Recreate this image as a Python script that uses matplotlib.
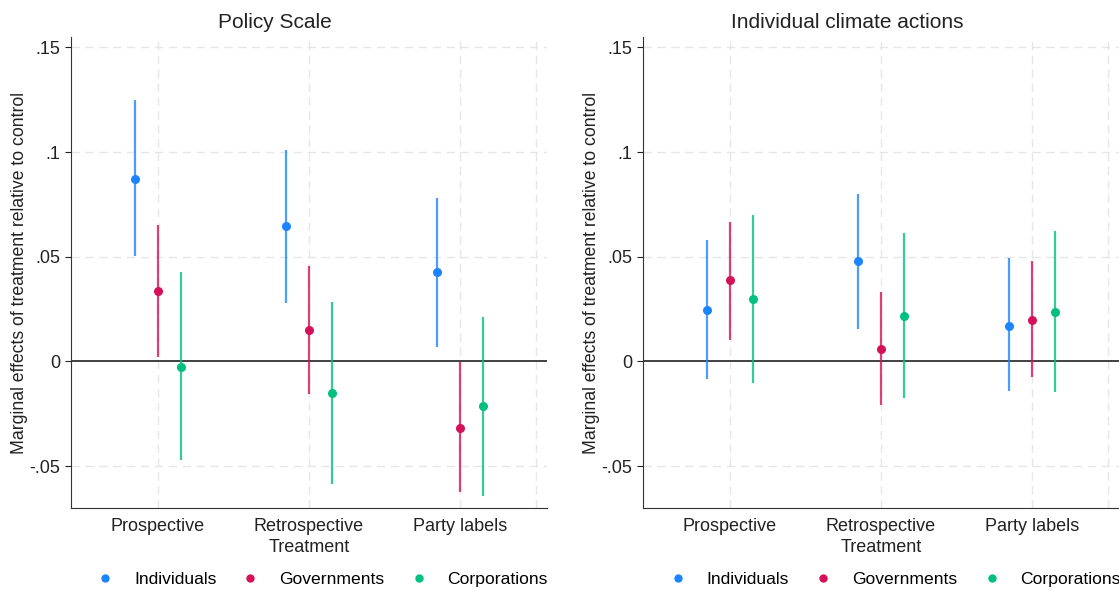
import numpy as np
import matplotlib
matplotlib.use("Agg")
import matplotlib.pyplot as plt
from matplotlib.lines import Line2D

plt.rcParams['font.family'] = ['Liberation Sans', 'DejaVu Sans']

# Treatment categories and groups
treatments = ["Prospective", "Retrospective", "Party labels"]
groups = ["Individuals", "Governments", "Corporations"]
colors = ["#1a85ff", "#d41159", "#00bf7f"]

# Policy Scale: point estimates and CI bounds (rows = groups, cols = treatments)
policy_est = [[0.0874, 0.0648, 0.0427],
              [0.0339, 0.0148, -0.0316],
              [-0.0025, -0.0149, -0.0215]]
policy_lo = [[0.0504, 0.0281, 0.0071],
             [0.0022, -0.0154, -0.0623],
             [-0.0473, -0.0583, -0.0645]]
policy_hi = [[0.1248, 0.1008, 0.0780],
             [0.0652, 0.0457, -0.0003],
             [0.0429, 0.0286, 0.0212]]

# Individual climate actions
action_est = [[0.0244, 0.0478, 0.0171],
              [0.0389, 0.0060, 0.0198],
              [0.0297, 0.0215, 0.0234]]
action_lo = [[-0.0085, 0.0154, -0.0140],
             [0.0104, -0.0208, -0.0074],
             [-0.0102, -0.0175, -0.0146]]
action_hi = [[0.0581, 0.0801, 0.0492],
             [0.0667, 0.0334, 0.0478],
             [0.0702, 0.0612, 0.0625]]

yticks = [-0.05, 0, 0.05, 0.1, 0.15]
ytick_labels = ["-.05", "0", ".05", ".1", ".15"]
offsets = [-0.15, 0, 0.15]

fig = plt.figure(figsize=(11.19, 5.90), dpi=100)
W, H = 1119, 590
ax1 = fig.add_axes([71 / W, 1 - 508 / H, 476 / W, 471 / H])
ax2 = fig.add_axes([643 / W, 1 - 508 / H, 476 / W, 471 / H])


def draw_panel(ax, title, title_x, legend_x, est, lo, hi):
    x = np.arange(1, len(treatments) + 1)
    for i in range(len(groups)):
        xs = x + offsets[i]
        ax.vlines(xs, lo[i], hi[i], color=colors[i], lw=1.6, alpha=0.8, zorder=3)
        ax.plot(xs, est[i], 'o', color=colors[i], ms=6.5, mec='none', zorder=4)
    ax.axhline(0, color="#333333", lw=1.3, zorder=2)
    ax.set_xlim(0.425, 3.575)
    ax.set_ylim(-0.07, 0.155)
    ax.set_yticks(yticks)
    ax.set_yticklabels(ytick_labels)
    ax.set_xticks(x)
    ax.set_xticklabels(treatments)
    for yv in [-0.05, 0.05, 0.1, 0.15]:
        ax.axhline(yv, color="#e6e6e6", lw=1, ls=(0, (6, 4)), zorder=1)
    for xv in [1, 2, 3, 3.5]:
        ax.axvline(xv, color="#e6e6e6", lw=1, ls=(0, (6, 4)), zorder=1)
    for s in ["top", "right"]:
        ax.spines[s].set_visible(False)
    ax.spines["left"].set_color("#333333")
    ax.spines["bottom"].set_color("#333333")
    ax.tick_params(axis="x", length=0, labelsize=13, pad=7, colors="#222222")
    ax.tick_params(axis="y", length=4, labelsize=13, colors="#222222")
    fig.text(title_x / W, 1 - 23 / H, title, fontsize=15, color="#222222",
             ha="center", va="center")
    ax.set_ylabel("Marginal effects of treatment relative to control",
                  fontsize=12.7, color="#222222", labelpad=1)
    ax.set_xlabel("Treatment", fontsize=13, labelpad=3, color="#222222")
    handles = [Line2D([], [], marker='o', ls='none', color=c, ms=6, mec='none')
               for c in colors]
    ax.legend(handles, groups, loc="center",
              bbox_to_anchor=(legend_x / W, 1 - 579 / H),
              bbox_transform=fig.transFigure,
              ncol=3, frameon=False, fontsize=12.6, handlelength=1,
              handletextpad=1.15, columnspacing=1.45, borderpad=0)


draw_panel(ax1, "Policy Scale", 275, 322, policy_est, policy_lo, policy_hi)
draw_panel(ax2, "Individual climate actions", 847, 895,
           action_est, action_lo, action_hi)

fig.savefig("out.png", dpi=100, facecolor="white")
